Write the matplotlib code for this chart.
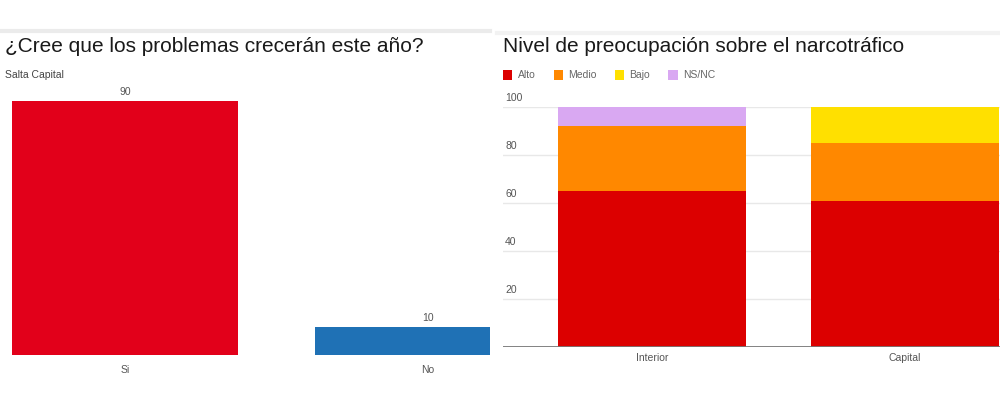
import matplotlib
matplotlib.use('Agg')

import matplotlib.pyplot as plt
from matplotlib.patches import Patch

plt.rcParams['font.family'] = ['Liberation Sans', 'DejaVu Sans']

# Left chart data
answers = ['Si', 'No']
answer_values = [90, 10]
answer_colors = ['#E2001A', '#1F71B5']

# Right chart data
regions = ['Interior', 'Capital']
levels = ['Alto', 'Medio', 'Bajo', 'NS/NC']
alto = [65, 61]
medio = [27, 24]
bajo = [0, 15]
nsnc = [8, 0]
level_colors = ['#DC0000', '#FF8800', '#FFE000', '#D9A8F2']
y_ticks = [20, 40, 60, 80, 100]

W, H = 1000, 404
fig = plt.figure(figsize=(W / 100, H / 100), dpi=100)


def box(x0, y0, x1, y1):
    # pixel box (top-left origin) -> figure fraction rect
    return [x0 / W, 1 - y1 / H, (x1 - x0) / W, (y1 - y0) / H]


# thin grey strips at the top of each panel
fig.add_artist(plt.Line2D([0, 490 / W], [1 - 31 / H] * 2, color='#ebebeb', lw=3))
fig.add_artist(plt.Line2D([497 / W, 1], [1 - 33 / H] * 2, color='#f2f2f2', lw=3))

# ---- Left chart ----
fig.text(5 / W, 1 - 47 / H, '¿Cree que los problemas crecerán este año?',
         fontsize=15, color='#1a1a1a', va='center', ha='left')
fig.text(5 / W, 1 - 75 / H, 'Salta Capital', fontsize=7.5, color='#444444',
         va='center', ha='left')

ax1 = fig.add_axes(box(0, 101, 490, 355))
xs = range(len(answers))
ax1.bar(xs, answer_values, width=0.743, color=answer_colors)
ax1.set_xlim(-125 / 303, 365 / 303)
ax1.set_ylim(0, 90)
for x, v in zip(xs, answer_values):
    ax1.annotate(str(v), (x, v), xytext=(0, 9), textcoords='offset pixels',
                 ha='center', va='center', fontsize=7.5, color='#555555',
                 annotation_clip=False)
ax1.set_xticks(list(xs))
ax1.set_xticklabels(answers, fontsize=7.5, color='#555555')
ax1.tick_params(axis='x', length=0, pad=7)
ax1.set_yticks([])
for s in ax1.spines.values():
    s.set_visible(False)

# ---- Right chart ----
fig.text(503 / W, 1 - 47 / H, 'Nivel de preocupación sobre el narcotráfico',
         fontsize=15, color='#1a1a1a', va='center', ha='left')

ax2 = fig.add_axes(box(503, 107, 1054, 347))
xr = range(len(regions))
bottom = [0] * len(regions)
for vals, col in zip([alto, medio, bajo, nsnc], level_colors):
    ax2.bar(xr, vals, bottom=bottom, width=0.742, color=col, zorder=2)
    bottom = [b + v for b, v in zip(bottom, vals)]
ax2.set_xlim(-149 / 253.5, 1 + 149 / 253.5)
ax2.set_ylim(0, 100)
ax2.set_yticks(y_ticks)
ax2.set_yticklabels([])
ax2.tick_params(axis='y', length=0)
ax2.grid(axis='y', color='#e8e8e8', lw=1, zorder=0)
for t in y_ticks:
    ax2.annotate(str(t), (0, t), xycoords=('axes fraction', 'data'),
                 xytext=(2, 9), textcoords='offset pixels', ha='left',
                 va='center', fontsize=7.5, color='#555555')
ax2.set_xticks(list(xr))
ax2.set_xticklabels(regions, fontsize=7.5, color='#555555')
ax2.tick_params(axis='x', length=0, pad=4)
for s in ax2.spines.values():
    s.set_visible(False)
ax2.axhline(0, color='#777777', lw=2, zorder=3)

handles = [Patch(facecolor=c, edgecolor='none') for c in level_colors]
fig.legend(handles, levels, loc='center left',
           bbox_to_anchor=(503 / W, 1 - 75 / H), ncol=4, frameon=False,
           fontsize=7.5, handlelength=0.9, handleheight=1.2, handletextpad=0.5,
           columnspacing=1.75, borderpad=0, borderaxespad=0,
           labelcolor='#666666')

fig.savefig('out.png', dpi=100)
